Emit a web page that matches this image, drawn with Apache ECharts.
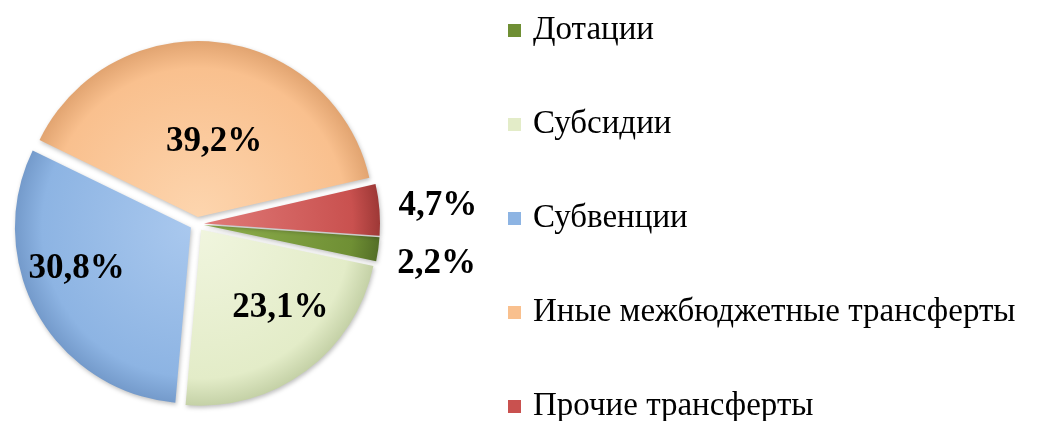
<!DOCTYPE html>
<html>
<head>
<meta charset="utf-8">
<script src="https://cdn.jsdelivr.net/npm/echarts@6/dist/echarts.min.js"></script>
<style>
  html, body { margin: 0; padding: 0; background: #fff; }
  #main { width: 1051px; height: 421px; }
</style>
</head>
<body>
<div id="main"></div>
<script>
// данные
var categories = ['Дотации', 'Субсидии', 'Субвенции', 'Иные межбюджетные трансферты', 'Прочие трансферты'];
var shares = [2.2, 23.1, 30.8, 39.2, 4.7];
var labelTexts = ['2,2%', '23,1%', '30,8%', '39,2%', '4,7%'];

// цвета: [светлый, основной, тёмный край]
var palette = [
    ['#8fb04e', '#6f8f34', '#4a6322'],
    ['#f0f5de', '#e3ecc8', '#b9c79a'],
    ['#a9c8ee', '#8db4e3', '#6b91c2'],
    ['#fdd5ae', '#f9c08e', '#d99a66'],
    ['#e07a78', '#c9514f', '#8e2f2d']
];
var outside = [true, false, false, false, true];
// сдвиг подписей: по x через padding, по y через пустую строку-распорку
var labelPads = [[0, 0, 0, 0], [0, 0, 0, 50], [0, 70, 0, 0], [0, 0, 0, 12], [0, 0, 0, 0]];
var labelDy = [13, 5, -3, 15, -3];

var cx = 197, cy = 224, R = 176;

var myChart = echarts.init(document.getElementById('main'));

var data = categories.map(function (name, i) {
    var dy = labelDy[i];
    var txt = '{t|' + labelTexts[i] + '}';
    var fmt = dy > 0 ? '{s| }\n' + txt : txt + '\n{s| }';
    return {
        name: name,
        value: shares[i],
        selected: true,
        itemStyle: {
            color: {
                type: 'radial', x: cx, y: cy, r: R + 10, global: true,
                colorStops: [
                    { offset: 0, color: palette[i][0] },
                    { offset: 0.8, color: palette[i][1] },
                    { offset: 1, color: palette[i][2] }
                ]
            }
        },
        label: {
            position: outside[i] ? 'outside' : 'inside',
            formatter: fmt,
            padding: labelPads[i],
            rich: {
                s: { fontSize: 1, lineHeight: Math.abs(dy) * 2 },
                t: {
                    fontFamily: 'Liberation Serif',
                    fontWeight: 'bold',
                    fontSize: 35,
                    lineHeight: 36,
                    color: '#000'
                }
            }
        }
    };
});

myChart.setOption({
    animation: false,
    legend: {
        orient: 'vertical',
        left: 503,
        top: 9,
        height: 412,
        itemWidth: 13,
        itemHeight: 13,
        itemGap: 61,
        icon: 'rect',
        selectedMode: false,
        data: categories.map(function (name, i) {
            return { name: name, itemStyle: { color: palette[i][1] } };
        }),
        textStyle: {
            fontFamily: 'Liberation Serif',
            fontSize: 33,
            lineHeight: 33,
            color: '#000',
            padding: [0, 0, 0, 7]
        }
    },
    series: [{
        type: 'pie',
        center: [cx, cy],
        radius: [0, R],
        startAngle: -4,
        clockwise: true,
        selectedMode: 'multiple',
        selectedOffset: 7,
        avoidLabelOverlap: false,
        emphasis: { disabled: true },
        select: { itemStyle: { borderWidth: 0 } },
        itemStyle: {
            shadowColor: 'rgba(0,0,0,0.25)',
            shadowBlur: 4,
            shadowOffsetX: 1,
            shadowOffsetY: 2
        },
        label: {
            show: true,
            fontFamily: 'Liberation Serif',
            fontWeight: 'bold',
            fontSize: 35,
            color: '#000'
        },
        labelLine: {
            show: false,
            length: 10,
            length2: 4
        },
        data: data
    }]
});
</script>
</body>
</html>
